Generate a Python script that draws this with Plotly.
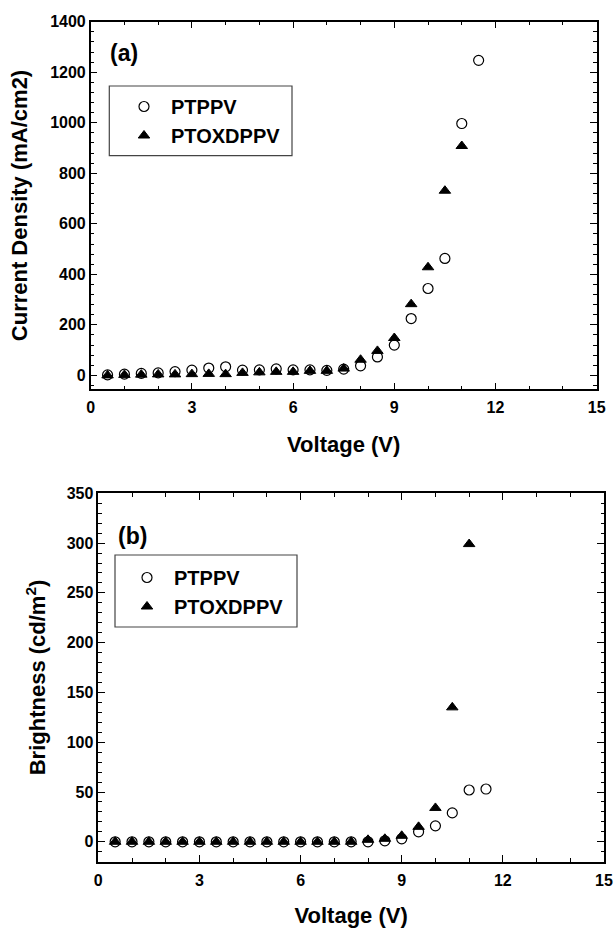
import plotly.graph_objects as go

# ---------------- data ----------------
voltage_ptppv = [0.5, 1.0, 1.5, 2.0, 2.5, 3.0, 3.5, 4.0, 4.5, 5.0, 5.5, 6.0,
                 6.5, 7.0, 7.5, 8.0, 8.5, 9.0, 9.5, 10.0, 10.5, 11.0, 11.5]
voltage_ptoxdppv = [0.5, 1.0, 1.5, 2.0, 2.5, 3.0, 3.5, 4.0, 4.5, 5.0, 5.5, 6.0,
                    6.5, 7.0, 7.5, 8.0, 8.5, 9.0, 9.5, 10.0, 10.5, 11.0]

current_ptppv = [2, 5, 8, 10, 15, 21, 29, 34, 21, 22, 26, 22,
                 22, 20, 25, 38, 73, 120, 225, 344, 463, 997, 1247]
current_ptoxdppv = [0, 2, 3, 4, 4, 5, 6, 5, 10, 12, 14, 14,
                    18, 18, 27, 62, 97, 148, 282, 428, 731, 908]

bright_ptppv = [0, 0, 0, 0, 0, 0, 0, 0, 0, 0, 0, 0,
                0, 0, 0, 0, 1, 3, 10, 16, 29, 52, 53]
bright_ptoxdppv = [0, 0, 0, 0, 0, 0, 0, 0, 0, 0, 0, 0,
                   0, 0, 0, 2, 3, 6, 15, 34, 135, 299]

series_names = ["PTPPV", "PTOXDPPV"]
x_ticks = [0, 3, 6, 9, 12, 15]
panel_labels = ["(a)", "(b)"]

# ---------------- styling ----------------
W, H = 614, 928
FONT = "Liberation Sans, Arial, Helvetica, sans-serif"

def px_x(p):
    return p / W

def px_y(p):
    return 1 - p / H

# panel pixel boxes (left, top, right, bottom)
box_a = (90.7, 21.7, 596.7, 389.3)
box_b = (98.3, 493.3, 604.0, 861.7)

fig = go.Figure()

circle_style = dict(symbol="circle-open", size=10, color="black",
                    line=dict(color="black", width=1.2))
tri_style = dict(symbol="triangle-up", size=10, color="black",
                 line=dict(color="black", width=1))

fig.add_trace(go.Scatter(x=voltage_ptppv, y=current_ptppv, mode="markers",
                         name=series_names[0], marker=circle_style,
                         xaxis="x", yaxis="y", legend="legend"))
fig.add_trace(go.Scatter(x=voltage_ptoxdppv, y=current_ptoxdppv, mode="markers",
                         name=series_names[1], marker=tri_style,
                         xaxis="x", yaxis="y", legend="legend"))
fig.add_trace(go.Scatter(x=voltage_ptppv, y=bright_ptppv, mode="markers",
                         name=series_names[0], marker=circle_style,
                         xaxis="x2", yaxis="y2", legend="legend2"))
fig.add_trace(go.Scatter(x=voltage_ptoxdppv, y=bright_ptoxdppv, mode="markers",
                         name=series_names[1], marker=tri_style,
                         xaxis="x2", yaxis="y2", legend="legend2"))

tickfont = dict(family=FONT, size=16, color="black", weight="bold")
titlefont = dict(family=FONT, size=22, color="black", weight="bold")

def xaxis_cfg(box, anchor, standoff):
    return dict(
        domain=[px_x(box[0]), px_x(box[2])], anchor=anchor,
        range=[0, 15], tickvals=x_ticks, ticks="inside", ticklen=7,
        tickwidth=1.2, tickcolor="black", mirror="allticks",
        showline=True, linecolor="black", linewidth=1.5,
        showgrid=False, zeroline=False, tickfont=tickfont,
        ticklabelstandoff=3,
        minor=dict(dtick=1, ticks="inside", ticklen=3.5, tickwidth=1,
                   tickcolor="black", showgrid=False),
        title=dict(text="Voltage (V)", font=titlefont, standoff=standoff),
        automargin=False,
    )

def yaxis_cfg(box, anchor, rng, dtick, minor, title, standoff):
    return dict(
        domain=[px_y(box[3]), px_y(box[1])], anchor=anchor,
        range=rng, dtick=dtick, tick0=0, ticks="inside", ticklen=7,
        tickwidth=1.2, tickcolor="black", mirror="allticks",
        showline=True, linecolor="black", linewidth=1.5,
        showgrid=False, zeroline=False, tickfont=tickfont,
        minor=dict(dtick=minor, ticks="inside", ticklen=3.5, tickwidth=1,
                   tickcolor="black", showgrid=False),
        title=dict(text=title, font=titlefont, standoff=standoff),
        automargin=False,
    )

legend_font = dict(family=FONT, size=20, color="black", weight="bold")

fig.update_layout(
    width=W, height=H,
    margin=dict(l=0, r=0, t=0, b=0),
    paper_bgcolor="white", plot_bgcolor="white",
    showlegend=True,
    xaxis=xaxis_cfg(box_a, "y", 21),
    yaxis=yaxis_cfg(box_a, "x", [-55, 1400], 200, 40,
                    "Current Density (mA/cm2)", 16),
    xaxis2=xaxis_cfg(box_b, "y2", 22),
    yaxis2=yaxis_cfg(box_b, "x2", [-20, 350], 50, 10,
                     "Brightness (cd/m<sup>2</sup>)", 15),
    legend=dict(x=px_x(117), y=px_y(87), xanchor="left", yanchor="top",
                bgcolor="rgba(0,0,0,0)", borderwidth=0, font=legend_font,
                itemwidth=44),
    legend2=dict(x=px_x(120), y=px_y(558), xanchor="left", yanchor="top",
                 bgcolor="rgba(0,0,0,0)", borderwidth=0, font=legend_font,
                 itemwidth=44),
    shapes=[
        dict(type="rect", xref="paper", yref="paper",
             x0=px_x(109.3), x1=px_x(292), y0=px_y(155.7), y1=px_y(86),
             line=dict(color="#444", width=1.2)),
        dict(type="rect", xref="paper", yref="paper",
             x0=px_x(115), x1=px_x(297), y0=px_y(627), y1=px_y(555),
             line=dict(color="#444", width=1.2)),
    ],
    annotations=[
        dict(text=panel_labels[0], xref="paper", yref="paper",
             x=px_x(123.5), y=px_y(53), xanchor="center", yanchor="middle",
             showarrow=False, font=dict(family=FONT, size=23, color="black",
                                        weight="bold")),
        dict(text=panel_labels[1], xref="paper", yref="paper",
             x=px_x(132), y=px_y(536), xanchor="center", yanchor="middle",
             showarrow=False, font=dict(family=FONT, size=23, color="black",
                                        weight="bold")),
    ],
)

fig.write_html("out.html")
